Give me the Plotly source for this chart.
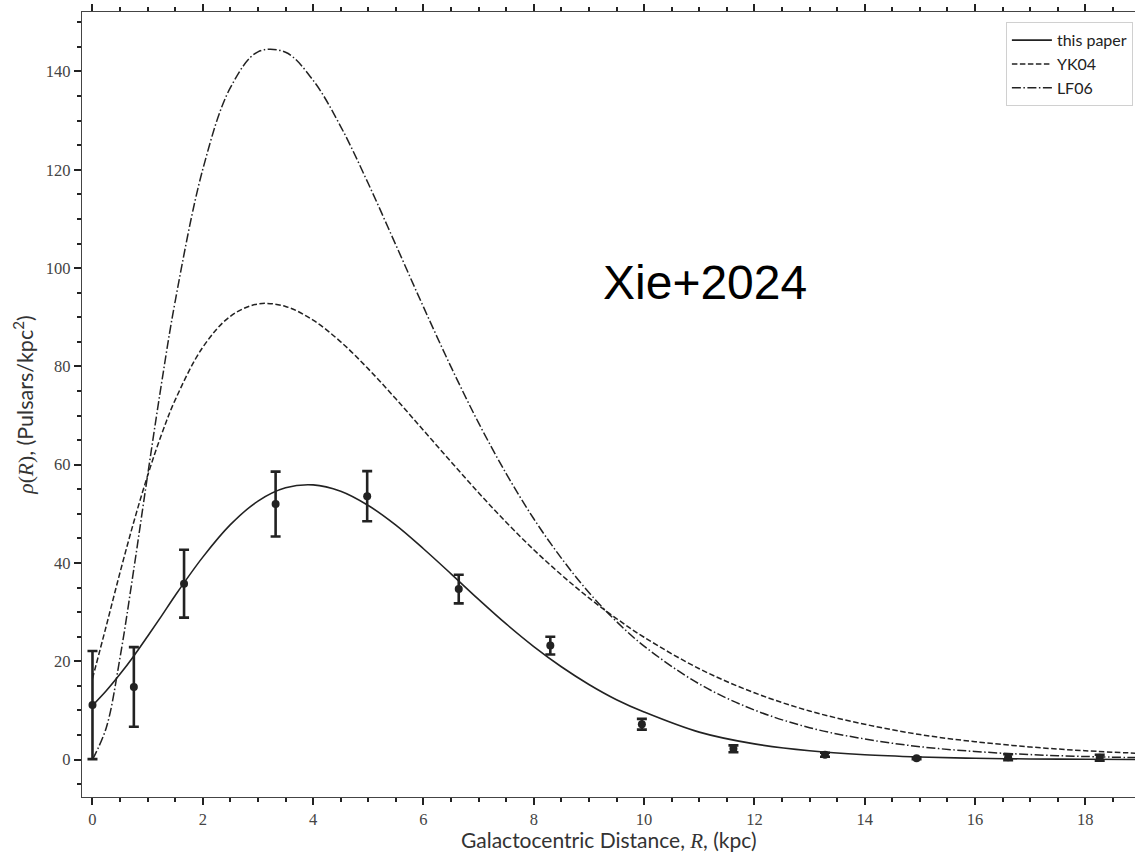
import plotly.graph_objects as go

# Observed binned pulsar surface density (Xie+2024)
R_obs = [0.0, 0.75, 1.66, 3.32, 4.98, 6.64, 8.30, 9.96, 11.62, 13.28, 14.94, 16.60, 18.26]
rho_obs = [11.1, 14.8, 35.8, 52.0, 53.6, 34.7, 23.2, 7.2, 2.2, 1.0, 0.3, 0.5, 0.4]
rho_err = [11.0, 8.1, 6.9, 6.6, 5.1, 2.9, 1.8, 1.1, 0.7, 0.4, 0.2, 0.6, 0.6]

# Model curves
R_grid = [0, 0.25, 0.5, 0.75, 1.0, 1.25, 1.5, 2.0, 2.5, 3.0, 3.5, 4.0, 4.5, 5.0, 5.5,
          6.0, 6.5, 7.0, 7.5, 8.0, 8.5, 9.0, 9.5, 10.0, 11, 12, 13, 14, 15, 16, 17, 18, 19]
rho_this = [11.0, 14.0, 17.4, 21.1, 25.1, 29.2, 33.4, 41.2, 47.8, 52.6, 55.3, 55.9, 54.6,
            51.7, 47.7, 42.9, 37.8, 32.6, 27.6, 23.0, 18.9, 15.3, 12.2, 9.7, 5.6, 3.2,
            1.8, 1.0, 0.55, 0.28, 0.14, 0.07, 0.04]
rho_yk04 = [16.5, 27.2, 38.1, 48.4, 57.8, 66.1, 73.2, 83.9, 90.2, 92.7, 92.2, 89.4, 85.0,
            79.5, 73.4, 67.0, 60.6, 54.3, 48.3, 42.7, 37.6, 32.9, 28.7, 24.9, 18.5, 13.6,
            9.9, 7.2, 5.1, 3.65, 2.58, 1.81, 1.27]
rho_lf06 = [0.0, 6.5, 20.8, 38.8, 57.9, 76.4, 93.3, 120.1, 136.7, 144.0, 143.9, 138.2,
            128.8, 117.2, 104.7, 92.1, 79.9, 68.5, 58.2, 49.0, 41.0, 34.0, 28.1, 23.1,
            15.4, 10.1, 6.5, 4.2, 2.64, 1.66, 1.03, 0.64, 0.39]

legend_names = ["this paper", "YK04", "LF06"]
x_title = "Galactocentric Distance, <span style='font-family:Liberation Serif'><i>R</i></span>, (kpc)"
y_title = "<span style='font-family:Liberation Serif'><i>ρ</i>(<i>R</i>)</span>, (Pulsars/kpc<sup>2</sup>)"

ink = "#222222"
serif = "Liberation Serif"
sans = "Lato"

fig = go.Figure()
fig.add_trace(go.Scatter(x=R_grid, y=rho_this, mode="lines", name=legend_names[0],
                         line=dict(color=ink, width=1.6, shape="spline")))
fig.add_trace(go.Scatter(x=R_grid, y=rho_yk04, mode="lines", name=legend_names[1],
                         line=dict(color=ink, width=1.5, shape="spline", dash="5.5px,2.5px")))
fig.add_trace(go.Scatter(x=R_grid, y=rho_lf06, mode="lines", name=legend_names[2],
                         line=dict(color=ink, width=1.5, shape="spline", dash="9px,2.5px,1.5px,2.5px")))
fig.add_trace(go.Scatter(x=R_obs, y=rho_obs, mode="markers", showlegend=False,
                         marker=dict(color=ink, size=8),
                         error_y=dict(type="data", array=rho_err, color=ink,
                                      thickness=2.6, width=5)))

fig.add_annotation(x=11.1, y=97, text="Xie+2024", showarrow=False,
                   font=dict(family="Liberation Sans", size=48, color="black"),
                   xanchor="center", yanchor="middle")

# x-axis title placed as an annotation just below the tick labels
fig.add_annotation(x=0.5, xref="paper", y=-0.0739, yref="paper", text=x_title,
                   showarrow=False, xanchor="center", yanchor="bottom",
                   font=dict(family=sans, size=21, color="#333333"))

axis_common = dict(
    showline=True, linecolor="#444444", linewidth=1.2,
    ticks="outside", ticklen=7, tickwidth=2, tickcolor=ink,
    showgrid=False, zeroline=False,
    tickfont=dict(family=serif, size=16.5, color="#444444"),
)

fig.update_xaxes(
    range=[-0.19, 18.9], dtick=2, tick0=0, mirror="ticks",
    minor=dict(dtick=0.5, ticklen=3.5, tickwidth=1.5, tickcolor=ink, ticks="outside"),
    automargin=False, **axis_common)
fig.update_yaxes(
    range=[-7.6, 152.1], dtick=20, tick0=0,
    minor=dict(dtick=5, ticklen=3.5, tickwidth=1.5, tickcolor=ink, ticks="outside"),
    title=dict(text=y_title, font=dict(family=sans, size=21.5, color="#333333"), standoff=6),
    automargin=False, **axis_common)

fig.update_layout(
    width=1135, height=855,
    margin=dict(l=82, r=0, t=12, b=58),
    plot_bgcolor="white", paper_bgcolor="white",
    legend=dict(x=0.998, y=0.987, xanchor="right", yanchor="top",
                bgcolor="white", bordercolor="#d0d0d0", borderwidth=1,
                font=dict(family=sans, size=16, color=ink),
                tracegroupgap=0, itemwidth=40),
)

fig.write_html("out.html")
